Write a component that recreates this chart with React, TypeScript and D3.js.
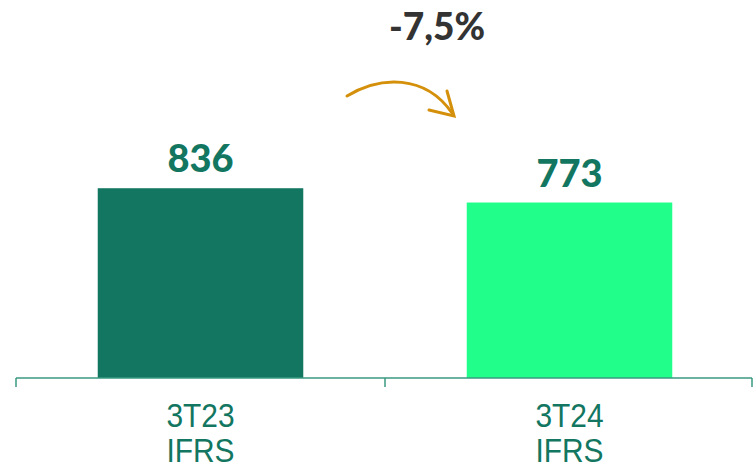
import React from "react";
import * as d3 from "d3";

const categories = ["3T23", "3T24"];
const subLabels = ["IFRS", "IFRS"];
const values = [836, 773];
const barColors = ["#127660", "#21FF8A"];
const changeLabel = "-7,5%";

const W = 756;
const H = 476;

export default function App() {
  const x = d3
    .scaleBand<string>()
    .domain(categories)
    .range([16, 754])
    .paddingInner(0.443)
    .paddingOuter(0.2215);
  const y = d3.scaleLinear().domain([0, 1000]).range([378, 151]);
  const step = x.step();
  const tickXs = d3.range(categories.length + 1).map((i) => Math.min(16 + i * step, 752));

  const arrow = d3.path();
  arrow.moveTo(347, 96);
  arrow.bezierCurveTo(380, 76, 425, 74, 452, 113);

  const labelFont = "'Liberation Sans', Arial, sans-serif";

  return (
    <svg width={W} height={H} style={{ position: "absolute", left: 0, top: 0, background: "#fff" }}>
      {categories.map((c, i) => (
        <rect
          key={c}
          x={x(c)}
          y={y(values[i])}
          width={x.bandwidth()}
          height={y(0) - y(values[i])}
          fill={barColors[i]}
        />
      ))}
      <line x1={16} x2={752} y1={378} y2={378} stroke="#3a9a80" strokeWidth={1.5} />
      {tickXs.map((t, i) => (
        <line key={i} x1={t} x2={t} y1={378} y2={387} stroke="#3a9a80" strokeWidth={1.5} />
      ))}
      {categories.map((c, i) => {
        const cx = (x(c) as number) + x.bandwidth() / 2;
        return (
          <g key={c} fill="#127660" textAnchor="middle">
            <text x={cx} y={y(values[i]) - 16} fontFamily="Lato, 'Open Sans', sans-serif" fontWeight={900} fontSize={38}>
              {values[i]}
            </text>
            <g transform={`translate(${cx},0) scale(0.88,1)`}>
              <text x={0} y={427} fontFamily={labelFont} fontSize={34}>
                {c}
              </text>
              <text x={0} y={462} fontFamily={labelFont} fontSize={34}>
                {subLabels[i]}
              </text>
            </g>
          </g>
        );
      })}
      <text x={437} y={40} textAnchor="middle" fill="#333" fontFamily="Lato, 'Open Sans', sans-serif" fontWeight={900} fontSize={37}>
        {changeLabel}
      </text>
      <path d={arrow.toString()} fill="none" stroke="#D4900A" strokeWidth={3} strokeLinecap="round" />
      <path d="M429,110 L454,116 L447,91" fill="none" stroke="#D4900A" strokeWidth={3} strokeLinecap="round" strokeLinejoin="miter" />
    </svg>
  );
}
